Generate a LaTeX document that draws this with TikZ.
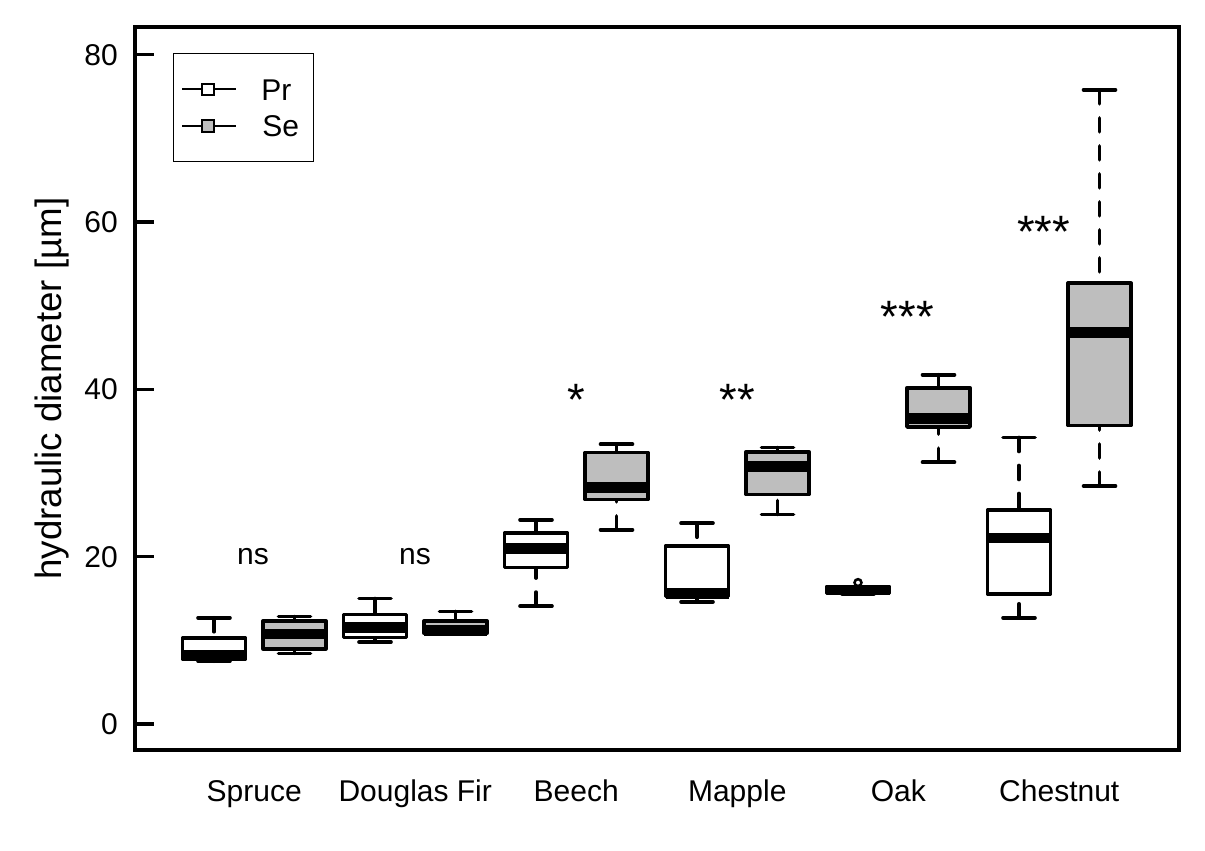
\documentclass[tikz,border=0pt]{standalone}
\usepackage{fontspec}
\setmainfont{Liberation Sans}
\definecolor{boxgray}{HTML}{BEBEBE}
\newcommand{\mybox}[7]{%
  \draw[whisk] (#1,#2) -- (#1,#3);
  \draw[whisk] (#1,#6) -- (#1,#5);
  \draw[staple] ({#1-16},#2) -- ({#1+16},#2);
  \draw[staple] ({#1-16},#6) -- ({#1+16},#6);
  \draw[boxst, fill=#7] ({#1-31.5},#3) rectangle ({#1+31.5},#5);
  \draw[medst] ({#1-31.5},#4) -- ({#1+31.5},#4);
}
\begin{document}
\begin{tikzpicture}[x=0.75pt,y=0.75pt,
  framest/.style={line width=2.4pt},
  boxst/.style={line width=2.7pt, line join=round},
  medst/.style={line width=8pt, line cap=butt},
  whisk/.style={line width=2.7pt, line cap=round, dash pattern=on 10.5pt off 10.5pt},
  staple/.style={line width=2.7pt, line cap=round},
  lbl/.style={font=\fontsize{22.5}{27}\selectfont, inner sep=0pt},
  starlbl/.style={font=\fontsize{34}{40}\selectfont, inner sep=0pt, anchor=base},
]
\useasboundingbox (0,0) rectangle (1205,850);
\fill[white] (0,0) rectangle (1205,850);

% data scope: x in px, y in data units
\begin{scope}[yshift=94.5pt, y=6.27375pt]
  \mybox{214}{7.5}{7.75}{8.25}{10.3}{12.7}{white}
  \mybox{294.5}{8.45}{9.0}{10.75}{12.3}{12.85}{boxgray}
  \mybox{375}{9.8}{10.35}{11.5}{13.1}{15.0}{white}
  \mybox{455.5}{10.8}{10.85}{11.2}{12.3}{13.45}{boxgray}
  \mybox{536}{14.1}{18.7}{20.95}{22.85}{24.4}{white}
  \mybox{616.5}{23.2}{26.85}{28.3}{32.45}{33.45}{boxgray}
  \mybox{697}{14.6}{15.25}{15.6}{21.3}{24.0}{white}
  \mybox{777.5}{25.05}{27.45}{30.75}{32.55}{33.05}{boxgray}
  \mybox{858}{15.55}{15.6}{16.0}{16.4}{16.45}{white}
  \mybox{938.5}{31.3}{35.5}{36.5}{40.2}{41.75}{boxgray}
  \mybox{1019}{12.7}{15.55}{22.25}{25.55}{34.25}{white}
  \mybox{1099.5}{28.45}{35.7}{46.8}{52.7}{75.8}{boxgray}
  \draw[line width=1.9pt] (858,16.9) circle[radius=2.6pt];
  \foreach \v in {0,20,40,60,80}{
    \draw[framest, line cap=butt] (135,\v) -- (154,\v);
    \node[lbl, anchor=east] (tick\v) at (118,\v) {\v};
  }
\end{scope}

% frame
\draw[framest] (135,100) rectangle (1179,823);

% legend
\draw[line width=0.75pt] (173.3,688.3) rectangle (313.3,796.7);
\draw[line width=1.7pt] (182,760.7) -- (236,760.7);
\draw[line width=1.6pt, fill=white] (202.3,755) rectangle (213.7,766.4);
\draw[line width=1.7pt] (182,724) -- (236,724);
\draw[line width=1.6pt, fill=boxgray] (202.3,718.3) rectangle (213.7,729.7);
\node[lbl, anchor=base west] (lpr) at (261,749.3) {Pr};
\node[lbl, anchor=base west] (lse) at (262,713.3) {Se};

% group labels
\node[lbl, anchor=base] (g1) at (254.25,48.3) {Spruce};
\node[lbl, anchor=base] (g2) at (415.25,48.3) {Douglas Fir};
\node[lbl, anchor=base] (g3) at (576.25,48.3) {Beech};
\node[lbl, anchor=base] (g4) at (737.25,48.3) {Mapple};
\node[lbl, anchor=base] (g5) at (898.25,48.3) {Oak};
\node[lbl, anchor=base] (g6) at (1059.25,48.3) {Chestnut};

% y label
\node[font=\fontsize{27.5}{32}\selectfont, rotate=90, anchor=base, inner sep=0pt] (ylab) at (61,461.5) {hydraulic diameter [µm]};

% significance
\node[lbl, anchor=base] (ns1) at (253,285.7) {ns};
\node[lbl, anchor=base] (ns2) at (415,285.7) {ns};
\node[starlbl] (s1) at (576.3,434.7) {*};
\node[starlbl] (s2) at (737.5,434.7) {**};
\node[starlbl] (s3) at (907.2,517.5) {***};
\node[starlbl] (s4) at (1043.5,602.7) {***};
\end{tikzpicture}
\end{document}
